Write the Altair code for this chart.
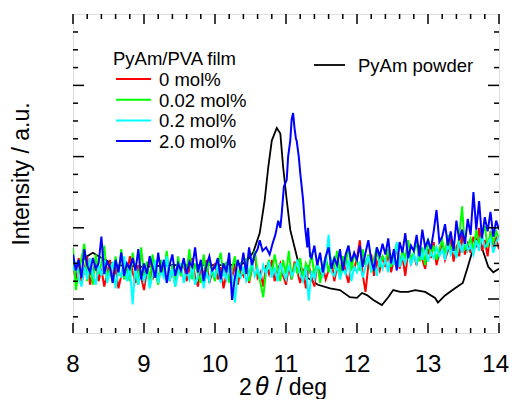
import altair as alt
import pandas as pd

# ---------------- data ----------------
X_GRID = [8.00, 8.04, 8.08, 8.12, 8.16, 8.20, 8.24, 8.28, 8.32, 8.36,
          8.40, 8.44, 8.48, 8.52, 8.56, 8.60, 8.64, 8.68, 8.72, 8.76,
          8.80, 8.84, 8.88, 8.92, 8.96, 9.00, 9.04, 9.08, 9.12, 9.16,
          9.20, 9.24, 9.28, 9.32, 9.36, 9.40, 9.44, 9.48, 9.52, 9.56,
          9.60, 9.64, 9.68, 9.72, 9.76, 9.80, 9.84, 9.88, 9.92, 9.96,
          10.00, 10.04, 10.08, 10.12, 10.16, 10.20, 10.24, 10.28, 10.32, 10.36,
          10.40, 10.44, 10.48, 10.52, 10.56, 10.60, 10.64, 10.68, 10.72, 10.76,
          10.80, 10.84, 10.88, 10.92, 10.96, 11.00, 11.04, 11.08, 11.12, 11.16,
          11.20, 11.24, 11.28, 11.32, 11.36, 11.40, 11.44, 11.48, 11.52, 11.56,
          11.60, 11.64, 11.68, 11.72, 11.76, 11.80, 11.84, 11.88, 11.92, 11.96,
          12.00, 12.04, 12.08, 12.12, 12.16, 12.20, 12.24, 12.28, 12.32, 12.36,
          12.40, 12.44, 12.48, 12.52, 12.56, 12.60, 12.64, 12.68, 12.72, 12.76,
          12.80, 12.84, 12.88, 12.92, 12.96, 13.00, 13.04, 13.08, 13.12, 13.16,
          13.20, 13.24, 13.28, 13.32, 13.36, 13.40, 13.44, 13.48, 13.52, 13.56,
          13.60, 13.64, 13.68, 13.72, 13.76, 13.80, 13.84, 13.88, 13.92, 13.96,
          14.00]

RED_Y = [1.9, 1.1, 2.3, 0.9, 1.6, 2.4, 0.8, 1.5, 2.1, 1.0,
         1.7, 0.7, 1.4, 2.2, 1.0, 1.8, 0.6, 1.3, 2.0, 1.2,
         2.4, 1.5, 0.9, 1.9, 1.2, 0.5, 1.6, 2.2, 1.1, 1.7,
         0.9, 2.0, 1.3, 2.5, 1.0, 1.6, 0.8, 1.9, 1.4, 2.1,
         1.0, 1.7, 2.3, 1.2, 0.7, 1.8, 1.3, 2.2, 0.9, 1.5,
         2.0, 1.1, 1.8, 0.6, 1.4, 2.3, 1.2, 1.9, 0.8, 1.6,
         1.3, 2.1, 0.9, 1.7, 2.6, 1.2, 1.5, 0.7, 1.9, 1.4,
         2.2, 1.0, 1.6, 2.0, 1.3, 0.8, 1.8, 1.1, 2.1, 1.5,
         0.9, 1.7, 0.6, 1.9, 1.2, 0.7, 2.0, 1.4, 1.8, 1.1,
         1.6, 2.2, 1.0, 1.8, 1.3, 2.4, 1.5, 0.9, 2.0, 1.7,
         2.3, 3.3, 1.4, 0.4, 1.9, 2.5, 1.3, 2.1, 1.6, 2.4,
         1.8, 2.6, 1.5, 2.2, 2.9, 1.7, 2.4, 1.3, 2.7, 2.0,
         2.5, 1.9, 3.0, 2.2, 1.7, 2.8, 2.3, 3.2, 1.9, 2.6,
         3.0, 2.2, 2.7, 3.4, 2.1, 2.9, 2.4, 3.6, 2.5, 3.1,
         2.6, 3.5, 2.9, 4.0, 2.7, 3.3, 2.4, 3.8, 3.0, 3.4,
         2.8]

GREEN_Y = [2.9, 0.5, 1.5, 2.3, 3.1, 1.0, 1.9, 0.8, 2.5, 1.4,
           2.0, 3.0, 1.2, 1.7, 0.9, 2.4, 1.3, 2.8, 1.1, 1.8,
           1.0, 2.6, 1.5, 0.8, 2.9, 1.3, 2.1, 1.0, 2.5, 1.6,
           0.8, 2.2, 1.4, 2.7, 1.1, 1.9, 0.7, 2.4, 1.3, 2.1,
           1.6, 2.8, 1.1, 2.0, 1.4, 0.9, 2.5, 1.2, 2.2, 1.5,
           1.0, 1.9, 2.6, 1.3, 2.1, 0.9, 1.7, 2.4, 1.2, 1.9,
           1.4, 2.3, 1.0, 1.8, 2.7, 1.5, 0.9, 0.1, 1.6, 2.2,
           1.3, 2.5, 1.7, 1.0, 2.2, 1.4, 2.7, 1.1, 1.9, 1.5,
           2.3, 1.2, 2.0, 1.6, 2.6, 1.3, 2.1, 0.9, 1.8, 2.4,
           1.5, 2.2, 1.8, 2.7, 1.4, 2.4, 1.9, 3.0, 1.6, 2.5,
           2.1, 1.6, 2.8, 1.9, 2.5, 1.5, 2.3, 2.9, 1.8, 2.4,
           2.1, 2.8, 1.8, 2.5, 3.1, 2.0, 2.7, 2.3, 3.3, 2.2,
           2.6, 3.2, 2.1, 2.9, 1.9, 3.4, 2.4, 3.0, 2.2, 2.8,
           3.3, 2.5, 3.6, 2.7, 3.1, 2.4, 3.5, 5.2, 2.8, 3.0,
           3.4, 2.7, 3.9, 3.1, 3.6, 4.1, 2.9, 3.7, 3.2, 3.8,
           3.4]

CYAN_Y = [1.6, 2.0, 1.2, 0.7, 1.8, 1.1, 2.3, 1.4, 0.8, 1.9,
          1.3, 2.2, 0.9, 1.5, 2.1, 0.6, 1.7, 1.2, 2.4, 1.0,
          1.8, -0.3, 2.0, 0.8, 1.5, 1.0, 1.7, 0.6, 1.3, 2.2,
          0.9, 1.6, 1.2, 2.4, 1.0, 1.7, 0.7, 1.4, 2.0, 0.9,
          1.6, 1.1, 1.9, 0.8, 1.3, 2.1, 0.6, 1.5, 1.0, 1.8,
          1.2, 2.0, 0.9, 1.6, 1.1, 1.9, 1.3, -0.2, 1.5, 1.2,
          1.8, 1.0, 1.4, 2.2, 1.3, 1.7, 1.1, 1.9, 1.4, 2.1,
          1.2, 1.8, 1.0, 2.0, 1.5, 1.1, 1.9, 1.3, 1.6, 2.2,
          1.4, 1.0, 1.8, -0.1, 1.6, 1.1, 1.9, 1.7, 1.3, 2.0,
          3.6, 1.5, 1.3, 1.9, 1.1, 1.7, 1.4, 2.2, 1.0, 1.8,
          1.5, 2.1, 1.2, 1.8, 2.4, 1.6, 2.0, 1.3, 2.3, 1.7,
          2.2, 1.5, 2.5, 1.9, 3.2, 1.8, 2.4, 2.0, 2.7, 1.9,
          2.5, 2.0, 2.8, 2.2, 3.0, 2.1, 2.6, 2.3, 2.9, 2.4,
          2.8, 2.2, 3.1, 2.5, 2.9, 2.3, 3.2, 2.6, 3.4, 2.7,
          3.0, 2.5, 3.3, 2.7, 3.6, 2.9, 3.1, 3.4, 2.6, 3.2,
          3.5]

# blue: grid values up to 10.56, detailed peak, grid values from 11.36
BLUE_LOW_Y = [2.5, 1.6, 2.2, 1.2, 2.8, 1.9, 1.5, 2.3, 1.7, 2.0,
              3.5, 1.4, 2.1, 1.8, 0.9, 2.2, 1.5, 2.6, 1.3, 2.0,
              1.7, 2.3, 1.6, 2.8, 1.1, 2.0, 1.4, 2.4, 1.8, 1.2,
              2.6, 1.5, 2.2, 0.9, 1.9, 2.5, 1.3, 2.0, 1.6, 2.3,
              1.4, 2.1, 1.8, 2.9, 1.5, 2.2, 1.0, 1.9, 2.4, 1.6,
              1.8, 2.3, 1.1, 2.0, 1.5, 2.6, -0.05, 1.2, 2.2, 1.6,
              2.6, 1.4, 2.9, 1.9, 2.5]
BLUE_PEAK_X = [10.60, 10.63, 10.67, 10.72, 10.77, 10.81, 10.85, 10.89, 10.92, 10.94,
               10.97, 11.01, 11.03, 11.06, 11.08, 11.10, 11.12, 11.14, 11.15, 11.18,
               11.20, 11.24, 11.27, 11.30, 11.31, 11.34]
BLUE_PEAK_Y = [2.8, 3.3, 2.7, 2.9, 2.5, 3.1, 3.6, 4.4, 4.0, 4.8,
               6.3, 6.7, 8.0, 8.9, 10.1, 10.45, 9.6, 9.0, 8.9, 8.0,
               7.1, 5.6, 4.0, 2.9, 4.0, 2.4]
BLUE_HIGH_Y = [2.3, 3.0, 1.9, 2.6, 1.5, 2.4,
               2.9, 1.7, 2.3, 1.9, 2.8, 1.6, 2.5, 3.0, 2.1, 2.6,
               2.2, 3.0, 1.8, 2.6, 3.3, 2.2, 1.6, 2.9, 2.4, 3.1,
               2.5, 3.4, 2.0, 2.8, 1.6, 3.2, 2.6, 3.7, 2.3, 3.0,
               2.7, 3.6, 2.4, 3.9, 2.9, 3.3, 2.8, 3.8, 5.0, 3.2,
               3.5, 4.2, 3.0, 3.8, 2.7, 4.4, 3.3, 3.9, 3.1, 4.5,
               3.6, 6.0, 3.9, 5.5, 3.4, 4.6, 3.8, 4.9, 3.5, 4.4,
               3.9]

POWDER_X = [8.00, 8.10, 8.20, 8.28, 8.40, 8.60, 9.00, 9.40, 9.80, 10.20,
            10.40, 10.48, 10.54, 10.63, 10.70, 10.75, 10.80, 10.87, 10.92, 10.96,
            11.01, 11.06, 11.13, 11.20, 11.30, 11.45, 11.62, 11.76, 11.90, 12.00,
            12.07, 12.14, 12.23, 12.35, 12.44, 12.51, 12.61, 12.72, 12.82, 12.96,
            13.10, 13.14, 13.24, 13.38, 13.49, 13.56, 13.63, 13.70, 13.77, 13.85,
            13.92, 14.00]
POWDER_Y = [1.9, 2.1, 2.4, 2.6, 2.3, 1.9, 1.8, 1.9, 1.9, 1.9,
            2.0, 2.3, 2.64, 3.7, 5.56, 7.4, 8.9, 9.61, 9.3, 7.4,
            5.56, 3.88, 2.75, 1.63, 1.2, 0.8, 0.6, 0.5, 0.1, 0.06,
            0.34, 0.22, -0.06, -0.34, 0.1, 0.5, 0.4, 0.4, 0.5, 0.4,
            0.06, -0.2, 0.2, 0.6, 0.9, 1.8, 2.75, 3.45, 2.75, 1.8,
            1.5, 1.7]

LEGEND_TITLE = "PyAm/PVA film"
SERIES_NAMES = ["0 mol%", "0.02 mol%", "0.2 mol%", "2.0 mol%"]
SERIES_COLORS = ["#ff0000", "#00ff00", "#00ffff", "#0000ff"]
POWDER_NAME = "PyAm powder"
X_TICK_LABELS = [8, 9, 10, 11, 12, 13, 14]
Y_TITLE = "Intensity / a.u."

# ---------------- chart ----------------
FONT = "Liberation Sans"
W, H = 426, 319
xs = alt.Scale(domain=[8, 14], nice=False, zero=False)
ys = alt.Scale(domain=[-1.91, 16.01], nice=False, zero=False)

X_AX = alt.Axis(labels=False, ticks=False, tickSize=0, domain=False, grid=False, title=None)
Y_AX = alt.Axis(labels=False, ticks=False, tickSize=0, domain=False, grid=False,
                title=Y_TITLE, titleFont=FONT, titleFontSize=23, titleFontWeight="normal",
                titleColor="black", titlePadding=40)


def series(xv, yv, color, width=2.0):
    df = pd.DataFrame({"x": xv, "y": yv, "i": list(range(len(xv)))})
    return alt.Chart(df).mark_line(color=color, strokeWidth=width, clip=True).encode(
        x=alt.X("x:Q", scale=xs, axis=X_AX),
        y=alt.Y("y:Q", scale=ys, axis=Y_AX),
        order="i:Q",
    )


blue_x = [v for v in X_GRID if v < 10.58] + BLUE_PEAK_X + [v for v in X_GRID if v > 11.35]
blue_y = BLUE_LOW_Y + BLUE_PEAK_Y + BLUE_HIGH_Y

layers = [
    series(POWDER_X, POWDER_Y, "black", 1.8),
    series(X_GRID, RED_Y, SERIES_COLORS[0]),
    series(X_GRID, GREEN_Y, SERIES_COLORS[1]),
    series(X_GRID, CYAN_Y, SERIES_COLORS[2]),
    series(blue_x, blue_y, SERIES_COLORS[3]),
]

# inward ticks on all four sides
x_minor = pd.DataFrame({"v": [round(8 + 0.2 * i, 1) for i in range(31) if i % 5 != 0]})
x_major = pd.DataFrame({"v": X_TICK_LABELS})
y_minor = pd.DataFrame({"v": [v for v in range(-1, 16) if v % 4 != 0]})
y_major = pd.DataFrame({"v": [0, 4, 8, 12]})

for df, L in [(x_minor, 5), (x_major, 10)]:
    for y0, y1 in [(H, H - L), (0, L)]:
        layers.append(alt.Chart(df).mark_rule(color="black", strokeWidth=1.5).encode(
            x=alt.X("v:Q", scale=xs, axis=X_AX), y=alt.value(y0), y2=alt.value(y1)))
for df, L in [(y_minor, 5), (y_major, 11)]:
    for x0, x1 in [(0, L), (W, W - L)]:
        layers.append(alt.Chart(df).mark_rule(color="black", strokeWidth=1.5).encode(
            y=alt.Y("v:Q", scale=ys, axis=Y_AX), x=alt.value(x0), x2=alt.value(x1)))

# x tick labels (last one nudged left so it stays inside the page)
lab = pd.DataFrame({"v": X_TICK_LABELS[:-1], "t": [str(v) for v in X_TICK_LABELS[:-1]]})
layers.append(alt.Chart(lab).mark_text(
    align="center", baseline="alphabetic", font=FONT, fontSize=24, color="black").encode(
    x=alt.X("v:Q", scale=xs, axis=X_AX), y=alt.value(H + 39), text="t:N"))
lab_last = pd.DataFrame({"v": X_TICK_LABELS[-1:], "t": [str(X_TICK_LABELS[-1])]})
layers.append(alt.Chart(lab_last).mark_text(
    align="right", baseline="alphabetic", font=FONT, fontSize=24, color="black", dx=10).encode(
    x=alt.X("v:Q", scale=xs, axis=X_AX), y=alt.value(H + 39), text="t:N"))

one = pd.DataFrame({"a": [0]})
LFS = 18.5
layers.append(alt.Chart(pd.DataFrame({"t": [LEGEND_TITLE]})).mark_text(
    align="left", baseline="alphabetic", font=FONT, fontSize=LFS, color="black").encode(
    x=alt.value(40), y=alt.value(51), text="t:N"))
for i, (name, color) in enumerate(zip(SERIES_NAMES, SERIES_COLORS)):
    yy = 65 + i * 20.7
    layers.append(alt.Chart(one).mark_rule(color=color, strokeWidth=2).encode(
        x=alt.value(43), x2=alt.value(78), y=alt.value(yy)))
    layers.append(alt.Chart(pd.DataFrame({"t": [name]})).mark_text(
        align="left", baseline="middle", font=FONT, fontSize=LFS, color="black").encode(
        x=alt.value(86), y=alt.value(yy + 1), text="t:N"))
layers.append(alt.Chart(one).mark_rule(color="black", strokeWidth=1.8).encode(
    x=alt.value(241), x2=alt.value(272), y=alt.value(51)))
layers.append(alt.Chart(pd.DataFrame({"t": [POWDER_NAME]})).mark_text(
    align="left", baseline="middle", font=FONT, fontSize=LFS, color="black").encode(
    x=alt.value(285), y=alt.value(52), text="t:N"))

# x-axis title: 2θ / deg (θ italic)
for txt, xx, style, fs in [("2", 166, "normal", 23), ("θ", 182, "italic", 25),
                           ("/ deg", 203, "normal", 23)]:
    layers.append(alt.Chart(pd.DataFrame({"t": [txt]})).mark_text(
        align="left", baseline="alphabetic", font=FONT, fontSize=fs, fontStyle=style,
        color="black").encode(x=alt.value(xx), y=alt.value(381), text="t:N"))

chart = alt.layer(*layers).properties(
    width=W, height=H,
    autosize=alt.AutoSizeParams(type="none"),
    padding={"left": 65, "top": 6, "right": 10, "bottom": 66},
).configure_view(stroke="black", strokeWidth=2).configure(background="white")

chart.save("out.html", embed_options={"renderer": "svg", "actions": False})
